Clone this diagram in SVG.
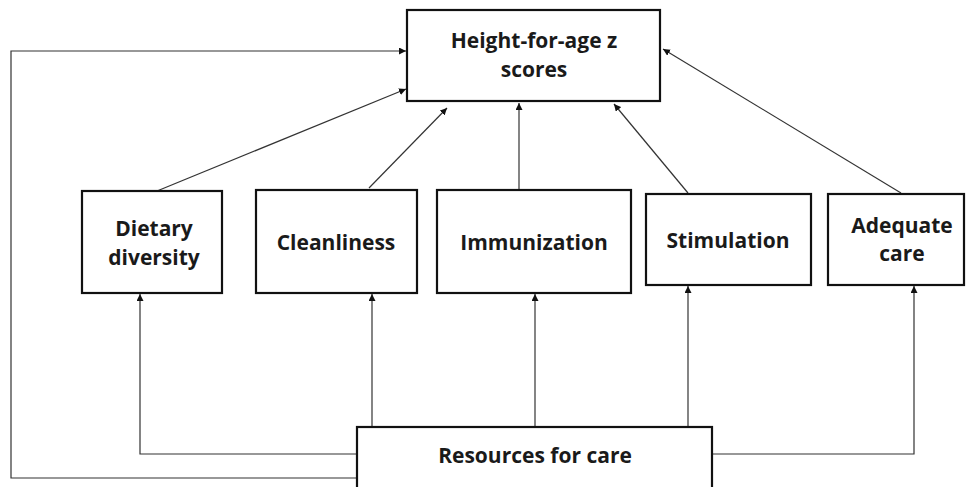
<svg xmlns="http://www.w3.org/2000/svg" width="966" height="487" viewBox="0 0 966 487">
<defs>
<marker id="arr" viewBox="0 0 10 10" refX="10" refY="5" markerWidth="7" markerHeight="7" markerUnits="userSpaceOnUse" orient="auto">
<path d="M0,0 L10,5 L0,10 z" fill="#111"/>
</marker>
<style>
.box{fill:#fff;stroke:#111;stroke-width:2.2}
.lbl{font-family:"Open Sans","Liberation Sans",sans-serif;font-weight:bold;font-size:21px;fill:#1a1a1a;text-anchor:middle}
.c{fill:none;stroke:#333;stroke-width:1.2;marker-end:url(#arr)}
</style>
</defs>
<rect width="966" height="487" fill="#fff"/>
<g id="connectors">
<path class="c" d="M357,478 H11 V51 H406"/>
<path class="c" d="M157,191 L406,89"/>
<path class="c" d="M369,188 L447,108"/>
<path class="c" d="M519,190 V103"/>
<path class="c" d="M688,193 L614,104"/>
<path class="c" d="M901,193 L663,49"/>
<path class="c" d="M357,454 H140 V294"/>
<path class="c" d="M372,427 V294"/>
<path class="c" d="M535,427 V294"/>
<path class="c" d="M688,427 V286"/>
<path class="c" d="M712,454 H914 V286"/>
</g>
<g id="hfa">
<rect class="box" x="407" y="10" width="253" height="91"/>
<text class="lbl" x="534" y="48">Height-for-age z</text>
<text class="lbl" x="534" y="77">scores</text>
</g>
<g id="dietary">
<rect class="box" x="82" y="191" width="140" height="102"/>
<text class="lbl" x="154" y="236">Dietary</text>
<text class="lbl" x="154" y="265">diversity</text>
</g>
<g id="cleanliness">
<rect class="box" x="256" y="190" width="161" height="103"/>
<text class="lbl" x="336" y="250">Cleanliness</text>
</g>
<g id="immunization">
<rect class="box" x="437" y="190" width="194" height="103"/>
<text class="lbl" x="534" y="250">Immunization</text>
</g>
<g id="stimulation">
<rect class="box" x="646" y="194" width="165" height="91"/>
<text class="lbl" x="728" y="248">Stimulation</text>
</g>
<g id="adequate">
<rect class="box" x="828" y="194" width="136" height="91"/>
<text class="lbl" x="902" y="233">Adequate</text>
<text class="lbl" x="902" y="261">care</text>
</g>
<g id="resources">
<rect class="box" x="357" y="427" width="355" height="70"/>
<text class="lbl" x="535" y="463">Resources for care</text>
</g>
</svg>
